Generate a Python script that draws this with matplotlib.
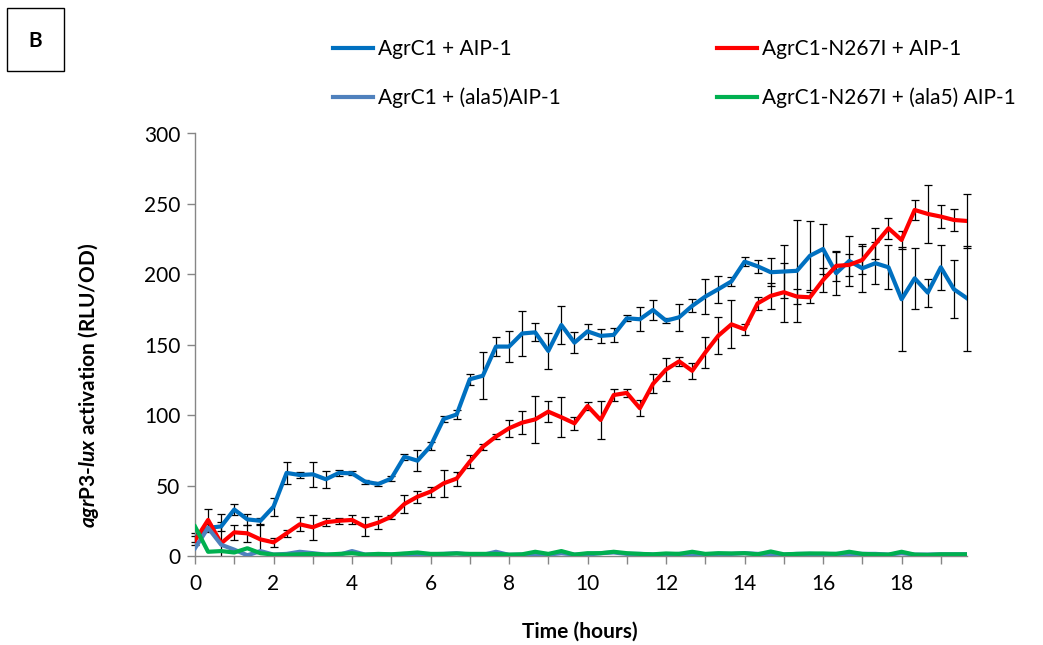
import numpy as np
import matplotlib
matplotlib.use("Agg")
import matplotlib.pyplot as plt
from matplotlib.patches import Rectangle
from matplotlib.ticker import MultipleLocator

plt.rcParams["font.family"] = ["Lato", "DejaVu Sans"]
plt.rcParams["mathtext.fontset"] = "custom"
plt.rcParams["mathtext.it"] = "Lato:italic:bold"
plt.rcParams["mathtext.rm"] = "Lato:bold"
plt.rcParams["mathtext.bf"] = "Lato:bold"

# Readings every 20 minutes over ~19.7 h
time_h = np.arange(60) / 3

agrc1_aip1 = [13, 20, 21, 33, 26, 25, 35, 59, 57.5, 58,
              54.5, 59, 58.7, 52.8, 51.1, 55, 70.5, 67.7, 78, 97.3,
              100.5, 125.5, 128, 148.7, 148.7, 158, 158.8, 145.6, 164, 151.5,
              159.5, 156.3, 157, 168.8, 168.1, 174.7, 167.1, 169.5, 177.6, 184.2,
              189.5, 195, 209, 205.7, 201.5, 202, 202.5, 213.2, 218, 200.8,
              209.5, 204.3, 207.9, 205, 182.3, 197.2, 187, 205, 189.4, 183]
agrc1_aip1_err = [3, 3, 3, 3.8, 4, 2, 6.4, 8, 2, 9,
                  5.9, 2.4, 1.5, 1.5, 1.5, 1.5, 2, 7.6, 3, 2,
                  2.9, 3.8, 16.6, 6.6, 10.9, 16.3, 6.3, 13, 13.3, 7.5,
                  5.4, 5.2, 5, 2, 8.6, 7.3, 2, 9.5, 4.6, 12.6,
                  9.5, 3.3, 3, 4.7, 9.8, 19, 36, 24.4, 17.5, 15.2,
                  17.8, 16.9, 15, 15.7, 37, 21.5, 10, 16, 20.7, 37.4]

n267i_aip1 = [11, 25.6, 9, 16.8, 16.1, 11.8, 9.7, 16.1, 22.5, 20.4,
              24, 25, 25.6, 20.8, 23.7, 27.9, 36.9, 42.1, 45.7, 51.6,
              55, 67, 77.6, 84.8, 90.7, 94.7, 97, 102.5, 98.5, 94.2,
              106.5, 96.6, 114.3, 115.8, 104.9, 122.2, 132.4, 138.2, 131.5, 144.5,
              156.5, 164.5, 161, 179.4, 184.7, 187.3, 184.2, 183.7, 196, 206,
              206.7, 210.2, 221.6, 232.7, 224.4, 245.7, 242.9, 241, 238.6, 237.9]
n267i_aip1_err = [3, 8, 21, 5.3, 6, 10, 3, 2.4, 5, 8.9,
                  2.9, 2, 3.2, 6.7, 4.7, 1.5, 6.2, 4.4, 3.5, 9.5,
                  5, 4.7, 2, 2, 5.9, 8.2, 16.6, 7.7, 14.3, 4.5,
                  3, 13.7, 4, 3, 5.7, 6.7, 8.2, 3.3, 5.6, 10.9,
                  13, 17, 4, 4.5, 9, 21, 5.2, 4, 8.3, 10.4,
                  8, 10, 11, 7.3, 6.6, 6.9, 20.7, 8.3, 7.6, 19]

agrc1_ala5 = [5.5, 20, 8, 4.5, 0.5, 3.5, 1, 1.5, 3, 2,
              1, 0.8, 3.5, 1, 1.2, 1, 1.5, 1, 1.2, 1.5,
              2, 1, 0.8, 3, 0.8, 1, 1.5, 1, 2, 1,
              1, 2, 2.5, 1.5, 1.5, 1, 1, 1.5, 1.5, 1.2,
              1.5, 1.5, 2, 1.5, 1.5, 1, 1.5, 1.5, 1.2, 1.5,
              1.5, 1.5, 1.5, 1, 2, 1, 1, 1.2, 1.2, 1.2]

n267i_ala5 = [21, 3, 3.5, 2.5, 5.5, 2, 1, 1, 1.2, 1.5,
              1, 1.5, 2, 1, 1.5, 1.2, 1.8, 2.5, 1.5, 1.5,
              1.8, 1.5, 1.5, 1.5, 1, 1.2, 3, 1.5, 3.5, 1,
              2, 2, 3, 2, 1.5, 1.2, 1.8, 1.5, 3, 1.5,
              2, 1.8, 2, 1.2, 3.2, 1.2, 1.5, 1.8, 1.8, 1.5,
              3, 1.5, 1.2, 1, 3, 1, 0.8, 1.2, 1.2, 1.2]

labels = ["AgrC1 + AIP-1", "AgrC1-N267I + AIP-1",
          "AgrC1 + (ala5)AIP-1", "AgrC1-N267I + (ala5) AIP-1"]
colors = ["#0070C0", "#FF0000", "#4F81BD", "#00B050"]

W, H = 1043, 645
fig = plt.figure(figsize=(W / 100, H / 100), dpi=100)
ax = fig.add_axes([195 / W, 1 - 556 / H, 772 / W, (556 - 133.5) / H])

# error bars may spill past the last time point but stop at the x axis
bar_clip = Rectangle((-0.02, 0), 1.04, 1.1, transform=ax.transAxes,
                     facecolor="none", edgecolor="none")
err_kw = dict(fmt="none", ecolor="black", elinewidth=0.9, capsize=2.6, capthick=0.9)
for vals, errs in [(agrc1_aip1, agrc1_aip1_err), (n267i_aip1, n267i_aip1_err)]:
    eb = ax.errorbar(time_h, vals, yerr=errs, zorder=2, **err_kw)
    for art in eb.lines[1] + eb.lines[2]:
        art.set_clip_path(bar_clip)

lw = 3.0
h1, = ax.plot(time_h, agrc1_aip1, color=colors[0], lw=lw, zorder=3)
h2, = ax.plot(time_h, n267i_aip1, color=colors[1], lw=lw, zorder=4)
h3, = ax.plot(time_h, agrc1_ala5, color=colors[2], lw=lw, zorder=5)
h4, = ax.plot(time_h, n267i_ala5, color=colors[3], lw=lw, zorder=6)

ax.set_xlim(0, time_h[-1])
ax.set_ylim(0, 300)
ax.xaxis.set_major_locator(MultipleLocator(2))
ax.xaxis.set_minor_locator(MultipleLocator(1))
ax.yaxis.set_major_locator(MultipleLocator(50))

for s in ["top", "right"]:
    ax.spines[s].set_visible(False)
for s in ["left", "bottom"]:
    ax.spines[s].set_color("#868686")
    ax.spines[s].set_linewidth(1.0)

ax.tick_params(axis="both", which="both", direction="out", color="#868686",
               width=1.0, labelsize=15, labelcolor="black")
ax.tick_params(axis="x", which="major", length=6, pad=7)
ax.tick_params(axis="x", which="minor", length=6)
ax.tick_params(axis="y", which="major", length=6, pad=4.5)

ax.set_xlabel("Time (hours)", fontsize=15, fontweight="bold")
ax.xaxis.set_label_coords(0.499, -0.155)
ax.set_ylabel(r"$agr$P3-$lux$ activation (RLU/OD)", fontsize=15, fontweight="bold")
ax.yaxis.set_label_coords(-0.122, 0.405)

leg_kw = dict(frameon=False, fontsize=15, handlelength=1.9, handletextpad=0.25,
              labelspacing=1.36, borderpad=0, borderaxespad=0, loc="upper left")
fig.legend([h1, h3], [labels[0], labels[2]],
           bbox_to_anchor=(333 / W, 1 - 39 / H), **leg_kw)
fig.legend([h2, h4], [labels[1], labels[3]],
           bbox_to_anchor=(717 / W, 1 - 39 / H), **leg_kw)

fig.add_artist(Rectangle((7 / W, 1 - 71 / H), 57 / W, 63 / H, transform=fig.transFigure,
                         fill=False, edgecolor="black", linewidth=1.0))
fig.text(35.5 / W, 1 - 41 / H, "B", fontsize=15, fontweight="bold", ha="center", va="center")

fig.savefig("out.png", dpi=100)
